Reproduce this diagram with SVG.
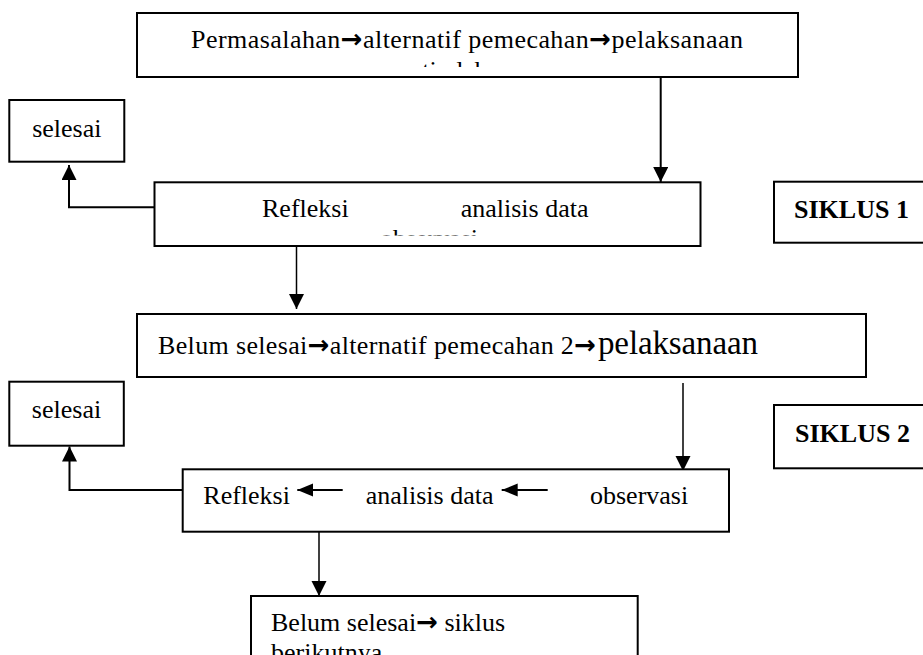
<svg xmlns="http://www.w3.org/2000/svg" width="923" height="655" viewBox="0 0 923 655">
<style>
.box{fill:#fff;stroke:#000;stroke-width:2}
.t{font-family:"Liberation Serif","Times New Roman",serif;font-size:26px;fill:#000}
.b{font-weight:bold}
.ar{font-family:"DejaVu Sans",sans-serif;font-weight:bold}
.c{fill:none;stroke:#000;stroke-width:2}
.thin{stroke-width:1.5}
</style>
<defs>
<marker id="ah" markerUnits="userSpaceOnUse" markerWidth="16" markerHeight="16" refX="15" refY="7.5" orient="auto">
<path d="M0,0 L15,7.5 L0,15 z" fill="#000"/>
</marker>
<marker id="ahs" markerUnits="userSpaceOnUse" markerWidth="17" markerHeight="14" refX="16" refY="6.5" orient="auto">
<path d="M0,0 L16,6.5 L0,13 z" fill="#000"/>
</marker>
<clipPath id="clipTop"><rect x="137" y="13" width="661" height="54"/></clipPath>
<clipPath id="clipRef1"><rect x="154" y="182" width="546" height="53.5"/></clipPath>
</defs>
<rect width="923" height="655" fill="#fff"/>

<g id="connectors">
<path class="c" d="M660.7,77 V182" marker-end="url(#ah)"/>
<path class="c" d="M154.5,207.3 H69 V165" marker-end="url(#ah)"/>
<path class="c thin" d="M296.5,246 V309" marker-end="url(#ah)"/>
<path class="c thin" d="M683,383 V471" marker-end="url(#ah)"/>
<path class="c" d="M182.7,490 H69.5 V446.5" marker-end="url(#ah)"/>
<path class="c thin" d="M319,531.7 V596" marker-end="url(#ah)"/>
</g>

<g id="node-permasalahan">
<rect class="box" x="137" y="13" width="661" height="64"/>
<g clip-path="url(#clipTop)">
<text class="t" x="467" y="48" text-anchor="middle" textLength="552">Permasalahan<tspan class="ar">→</tspan>alternatif pemecahan<tspan class="ar">→</tspan>pelaksanaan</text>
<text class="t" x="467" y="78.5" text-anchor="middle">tindakan</text>
</g>
</g>

<g id="node-selesai1">
<rect class="box" x="9.3" y="100" width="115" height="61.7"/>
<text class="t" x="66.8" y="137" text-anchor="middle">selesai</text>
</g>

<g id="node-refleksi1">
<rect class="box" x="154.5" y="182.3" width="546" height="63.7"/>
<g clip-path="url(#clipRef1)">
<text class="t" x="262" y="217">Refleksi</text>
<text class="t" x="460.7" y="217">analisis data</text>
<text class="t" x="429" y="247" text-anchor="middle">observasi</text>
</g>
</g>

<g id="node-siklus1">
<rect class="box" x="774" y="181.7" width="160" height="61"/>
<text class="t b" x="794" y="218.3">SIKLUS 1</text>
</g>

<g id="node-belum1">
<rect class="box" x="137" y="314" width="729" height="63"/>
<text class="t" y="354"><tspan x="158" textLength="438">Belum selesai<tspan class="ar">→</tspan>alternatif pemecahan 2<tspan class="ar">→</tspan></tspan><tspan x="598" font-size="33" textLength="160">pelaksanaan</tspan></text>
</g>

<g id="node-selesai2">
<rect class="box" x="9.3" y="381.7" width="114.5" height="64"/>
<text class="t" x="66.5" y="418" text-anchor="middle">selesai</text>
</g>

<g id="node-siklus2">
<rect class="box" x="774" y="405" width="160" height="63.3"/>
<text class="t b" x="795" y="441.7">SIKLUS 2</text>
</g>

<g id="node-refleksi2">
<rect class="box" x="182.7" y="469.3" width="546.3" height="62.4"/>
<text class="t" x="203.3" y="504.3">Refleksi</text>
<path class="c" d="M342.7,490 H297.3" marker-end="url(#ahs)"/>
<text class="t" x="365.7" y="504.3">analisis data</text>
<path class="c" d="M547.7,490 H501.7" marker-end="url(#ahs)"/>
<text class="t" x="590" y="504.3">observasi</text>
</g>

<g id="node-belum2">
<rect class="box" x="251" y="596" width="386.7" height="70"/>
<text class="t" x="271" y="631">Belum selesai<tspan class="ar">→</tspan> siklus</text>
<text class="t" x="271" y="661">berikutnya</text>
</g>
</svg>
